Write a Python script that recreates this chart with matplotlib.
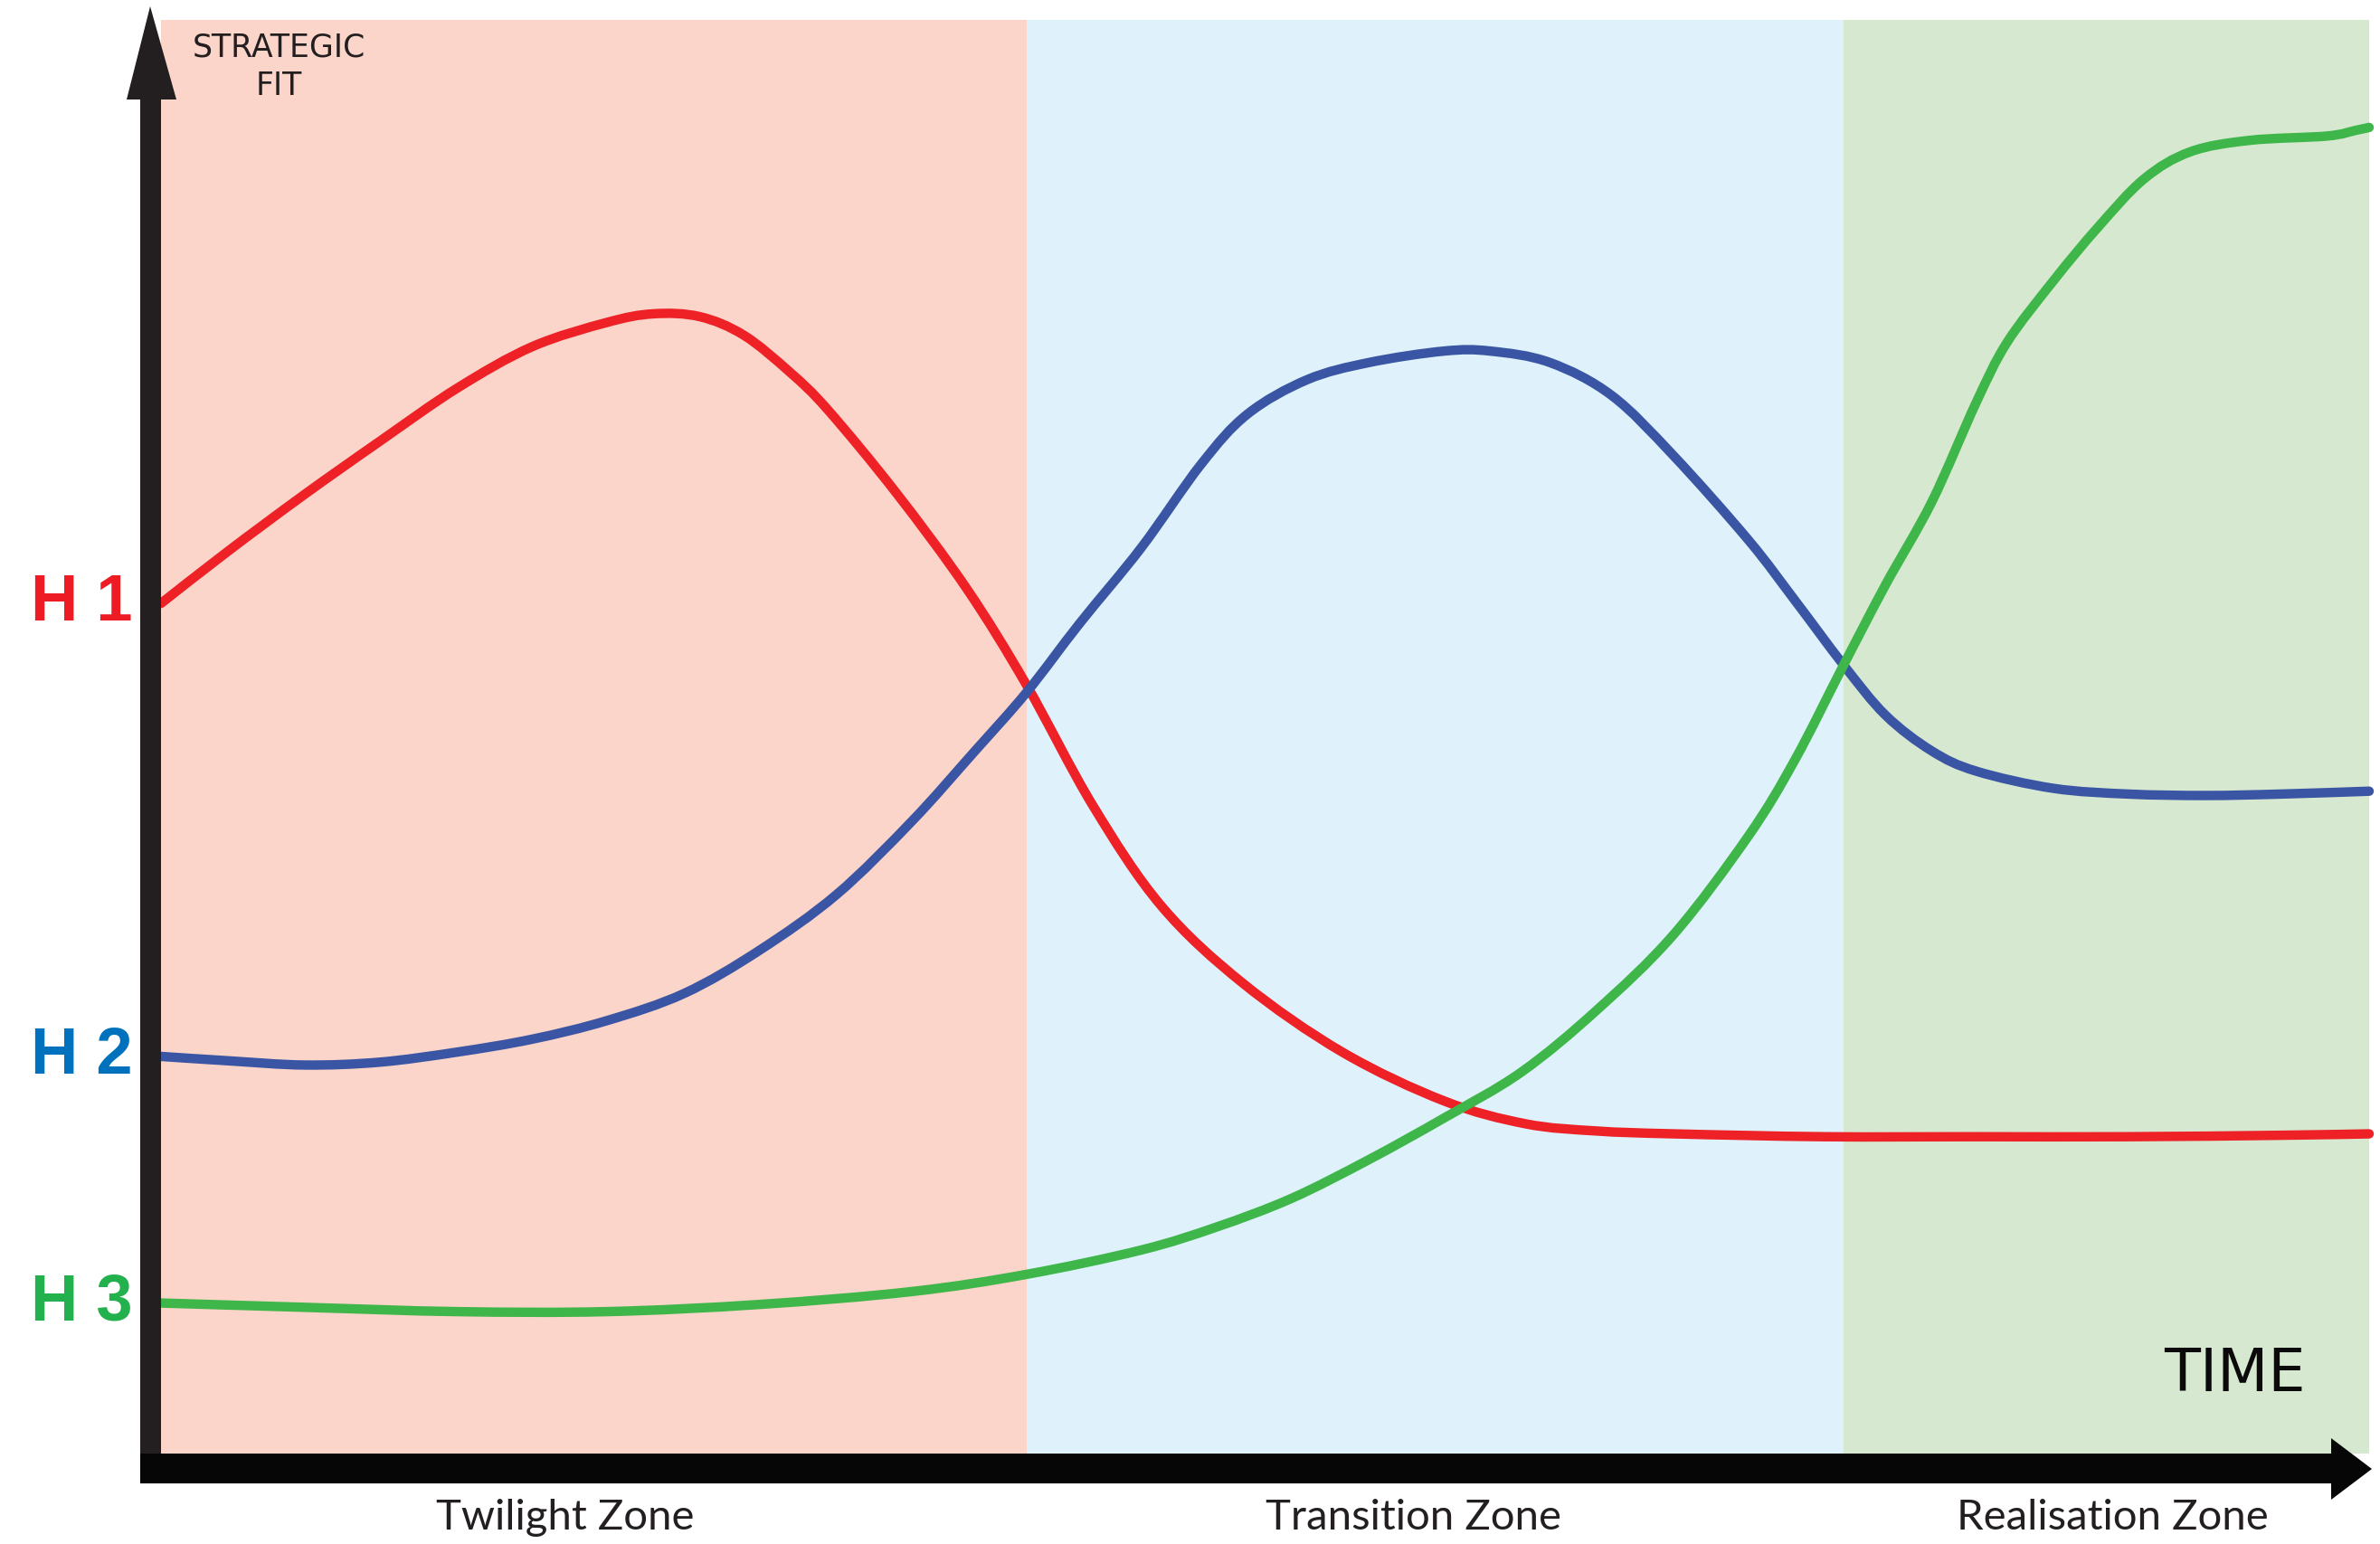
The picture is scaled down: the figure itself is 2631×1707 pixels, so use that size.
import matplotlib
matplotlib.use("Agg")
import matplotlib.pyplot as plt
import matplotlib.patches as patches
import matplotlib.transforms as mtransforms
from matplotlib.path import Path

# Figure size in pixels (dpi 100)
W, H = 2631, 1707

# Zones along the time axis (time 0-100)
ZONE_NAMES = ["Twilight Zone", "Transition Zone", "Realisation Zone"]
ZONE_EDGES = [0, 39.2, 76.2, 100]
ZONE_COLORS = ["#fbd5c9", "#dff2fb", "#d6e8cf"]
ZONE_LABEL_X = [18.3, 56.7, 88.4]

# Horizon curves: strategic fit (0-100) against time (0-100)
h1_t = [0, 3.0, 6.5, 9.9, 13.4, 16.8, 20.2, 22.3, 24.4, 26.4, 28.5, 30.2, 33.3,
        36.5, 39.2, 42.2, 45.3, 49.0, 53.5, 58.1, 61.8, 65.0, 68.5, 75.3, 82.2,
        89.1, 96.0, 100]
h1_fit = [59.3, 62.9, 66.9, 70.6, 74.3, 77.2, 78.9, 79.5, 79.3, 78.0, 75.4, 72.8,
          67.0, 60.3, 53.6, 45.2, 38.2, 32.8, 28.0, 24.6, 23.0, 22.5, 22.3, 22.1,
          22.1, 22.1, 22.2, 22.3]

h2_t = [0, 3.0, 6.5, 9.9, 13.4, 16.8, 20.2, 23.7, 27.1, 30.6, 34.0, 36.8, 39.2,
        41.6, 44.4, 47.1, 49.2, 51.9, 54.7, 58.1, 60.2, 62.9, 65.7, 68.5, 71.9,
        74.0, 76.2, 78.1, 80.2, 82.2, 85.7, 89.1, 92.6, 96.0, 100]
h2_fit = [27.7, 27.4, 27.1, 27.3, 28.0, 28.9, 30.2, 32.1, 35.1, 39.0, 44.1, 48.9,
          53.1, 57.9, 63.2, 69.0, 72.5, 74.9, 76.1, 76.9, 76.9, 76.1, 73.8, 69.6,
          63.7, 59.5, 55.0, 51.5, 49.0, 47.6, 46.4, 46.0, 45.9, 46.0, 46.2]

h3_t = [0, 6.5, 13.4, 20.2, 27.1, 34.0, 39.2, 44.4, 47.8, 51.2, 54.7, 58.1, 61.6,
        65.0, 68.5, 71.9, 74.0, 76.2, 78.1, 80.2, 82.2, 83.6, 85.7, 87.7, 89.8,
        91.9, 94.6, 98.1, 99.4, 100]
h3_fit = [10.5, 10.2, 9.9, 9.9, 10.4, 11.3, 12.5, 14.2, 15.8, 17.8, 20.5, 23.4,
          26.6, 30.9, 36.2, 43.1, 48.4, 55.0, 60.6, 66.4, 73.3, 77.5, 81.8, 85.5,
          88.9, 90.8, 91.6, 91.9, 92.3, 92.5]

HORIZONS = ["H 1", "H 2", "H 3"]
LINE_COLORS = ["#ee2127", "#3a55a4", "#3eb649"]
LABEL_COLORS = ["#ed1c24", "#0071bc", "#22b14c"]


def px(x, y):
    """pixel (top-left origin) -> figure fraction"""
    return (x / W, 1 - y / H)


def smooth_path(t, f):
    """Bezier path through the points (Catmull-Rom tangents)"""
    pts = list(zip(t, f))
    verts = [pts[0]]
    codes = [Path.MOVETO]
    n = len(pts)
    for i in range(n - 1):
        p0 = pts[max(i - 1, 0)]
        p1 = pts[i]
        p2 = pts[i + 1]
        p3 = pts[min(i + 2, n - 1)]
        c1 = (p1[0] + (p2[0] - p0[0]) / 6, p1[1] + (p2[1] - p0[1]) / 6)
        c2 = (p2[0] - (p3[0] - p1[0]) / 6, p2[1] - (p3[1] - p1[1]) / 6)
        verts += [c1, c2, p2]
        codes += [Path.CURVE4] * 3
    return Path(verts, codes)


fig = plt.figure(figsize=(W / 100, H / 100), dpi=100)
fig.patch.set_facecolor("white")

# plot region: x 178..2619 px, y 22..1607 px
ax = fig.add_axes([178 / W, 100 / H, (2619 - 178) / W, (1607 - 22) / H])
ax.set_xlim(0, 100)
ax.set_ylim(0, 100)
ax.axis("off")

for i in range(3):
    ax.axvspan(ZONE_EDGES[i], ZONE_EDGES[i + 1], color=ZONE_COLORS[i], lw=0, zorder=0)

series = [(h1_t, h1_fit), (h2_t, h2_fit), (h3_t, h3_fit)]
for (t, f), c in zip(series, LINE_COLORS):
    ax.add_patch(patches.PathPatch(smooth_path(t, f), facecolor="none", edgecolor=c,
                                   lw=7.5, capstyle="round", joinstyle="round",
                                   clip_on=False, zorder=3))

# axis arrows drawn as polygons in pixel layout
yaxis = [px(155, 1640), px(178, 1640), px(178, 110), px(195, 110), px(166, 7),
         px(140, 110), px(155, 110)]
xaxis = [px(155, 1607), px(2577, 1607), px(2577, 1590), px(2622, 1624),
         px(2577, 1658), px(2577, 1640), px(155, 1640)]
fig.patches.append(patches.Polygon(yaxis, closed=True, transform=fig.transFigure,
                                   facecolor="#231f20", edgecolor="none", zorder=5))
fig.patches.append(patches.Polygon(xaxis, closed=True, transform=fig.transFigure,
                                   facecolor="#060606", edgecolor="none", zorder=5))

narrow = ["Liberation Sans Narrow", "DejaVu Sans"]

fig.text(*px(308, 74), "STRATEGIC\nFIT", ha="center", va="center", fontsize=25,
         family=narrow, color="#231f20", linespacing=1.3)
fig.text(*px(2470, 1520), "TIME", ha="center", va="center", fontsize=47,
         family=narrow, color="#0a0a0a")

for name, xc in zip(ZONE_NAMES, ZONE_LABEL_X):
    ax.text(xc, -5.3, name, ha="center", va="baseline", fontsize=34,
            family=["Lato", "DejaVu Sans"], color="#231f20", clip_on=False)

trans = mtransforms.blended_transform_factory(fig.transFigure, ax.transData)
for name, f, c in zip(HORIZONS, [h1_fit[0], h2_fit[0], h3_fit[0]], LABEL_COLORS):
    fig.text(34 / W, f, name, transform=trans, ha="left", va="center",
             fontsize=52, fontweight="heavy", family=["Liberation Sans", "DejaVu Sans"],
             color=c)

fig.savefig("out.png", dpi=100, facecolor="white")
